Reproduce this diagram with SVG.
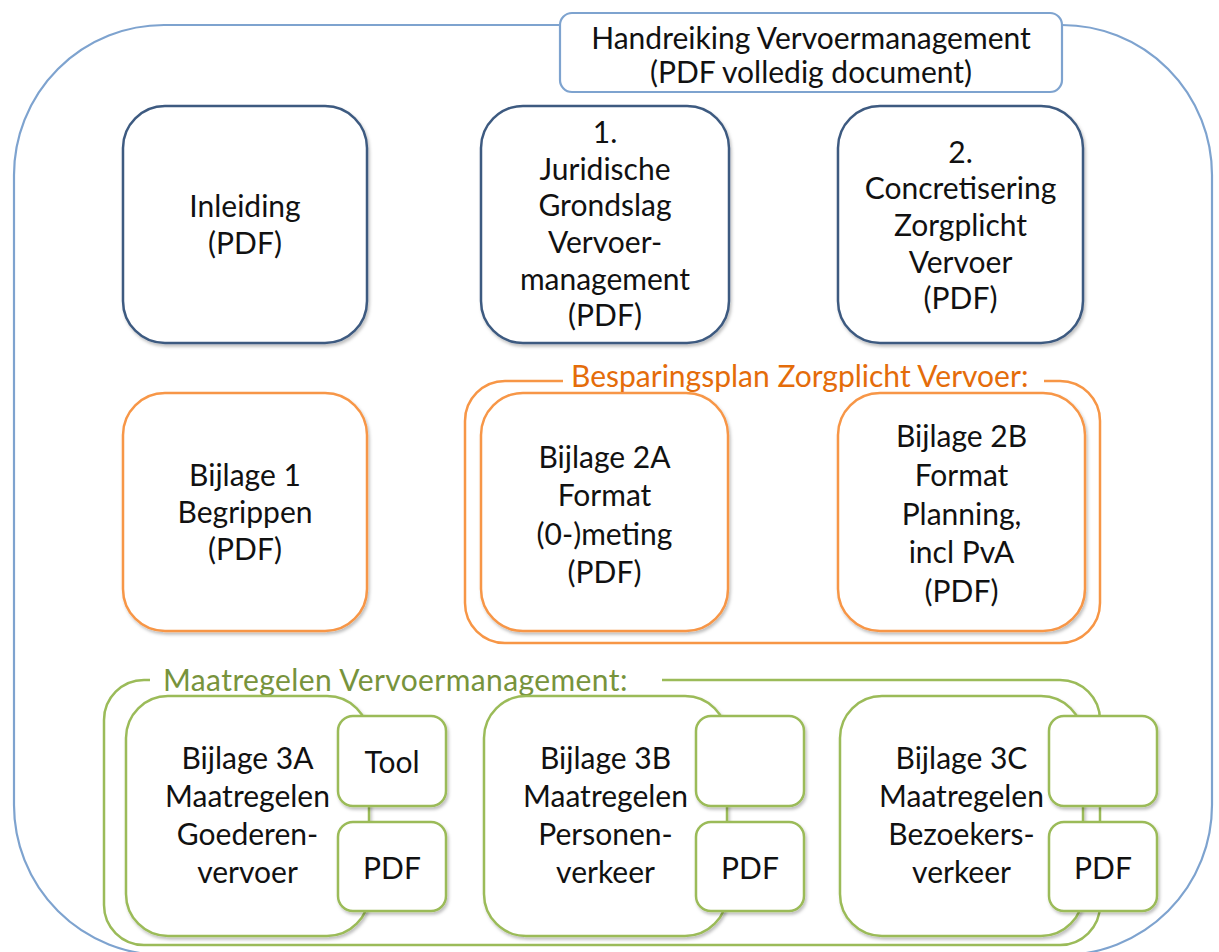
<svg xmlns="http://www.w3.org/2000/svg" width="1219" height="952" viewBox="0 0 1219 952">
<style>
  text { font-family: "Lato", "Liberation Sans", sans-serif; font-size: 30px; fill: #111; text-anchor: middle; }
  .box { fill: #fff; stroke-width: 2.5; filter: url(#sh); }
  .navy { stroke: #3d5a80; }
  .orange { stroke: #f79646; }
  .green { stroke: #9bbb59; }
  .outer { fill: none; stroke: #7ea3cf; stroke-width: 2.2; }
  .grp { fill: none; stroke-width: 2.5; }
  .olabel { fill: #e46c0a; text-anchor: start; }
  .glabel { fill: #77933c; text-anchor: start; }
</style>
<defs>
  <filter id="sh" x="-10%" y="-10%" width="125%" height="125%">
    <feDropShadow dx="1.5" dy="2.5" stdDeviation="1.5" flood-color="#000" flood-opacity="0.25"/>
  </filter>
</defs>
<rect width="1219" height="952" fill="#fff"/>

<g id="outer-container">
  <rect class="outer" x="14" y="25" width="1198" height="930" rx="150" ry="150"/>
</g>

<g id="title">
  <rect x="560" y="13" width="502" height="79" rx="12" fill="#fff" stroke="#7ea3cf" stroke-width="2.2"/>
  <text x="811" y="49">Handreiking Vervoermanagement</text>
  <text x="811" y="83">(PDF volledig document)</text>
</g>

<g id="inleiding">
  <rect class="box navy" x="123" y="106" width="244" height="237" rx="42"/>
  <text x="245" y="217">Inleiding</text>
  <text x="245" y="254">(PDF)</text>
</g>

<g id="hoofdstuk1">
  <rect class="box navy" x="481" y="106" width="248" height="237" rx="42"/>
  <text x="605" y="143">1.</text>
  <text x="605" y="180">Juridische</text>
  <text x="605" y="216">Grondslag</text>
  <text x="605" y="253">Vervoer-</text>
  <text x="605" y="290">management</text>
  <text x="605" y="326">(PDF)</text>
</g>

<g id="hoofdstuk2">
  <rect class="box navy" x="838" y="106" width="245" height="237" rx="42"/>
  <text x="960.5" y="163">2.</text>
  <text x="960.5" y="199">Concretisering</text>
  <text x="960.5" y="236">Zorgplicht</text>
  <text x="960.5" y="273">Vervoer</text>
  <text x="960.5" y="309">(PDF)</text>
</g>

<g id="bijlage1">
  <rect class="box orange" x="123" y="393" width="244" height="238" rx="42"/>
  <text x="245" y="486">Bijlage 1</text>
  <text x="245" y="523">Begrippen</text>
  <text x="245" y="560">(PDF)</text>
</g>

<g id="besparingsplan">
  <path class="grp orange" d="M 563 381 L 505 381 A 40 40 0 0 0 465 421 L 465 603 A 40 40 0 0 0 505 643 L 1060 643 A 40 40 0 0 0 1100 603 L 1100 421 A 40 40 0 0 0 1060 381 L 1044 381"/>
  <g id="bijlage2a">
    <rect class="box orange" x="481" y="393" width="247" height="238" rx="42"/>
    <text x="604.5" y="468">Bijlage 2A</text>
    <text x="604.5" y="506">Format</text>
    <text x="604.5" y="545">(0-)meting</text>
    <text x="604.5" y="583">(PDF)</text>
  </g>
  <g id="bijlage2b">
    <rect class="box orange" x="838" y="393" width="247" height="238" rx="42"/>
    <text x="961.5" y="447">Bijlage 2B</text>
    <text x="961.5" y="486">Format</text>
    <text x="961.5" y="525">Planning,</text>
    <text x="961.5" y="563">incl PvA</text>
    <text x="961.5" y="602">(PDF)</text>
  </g>
  <text class="olabel" x="571" y="387">Besparingsplan Zorgplicht Vervoer:</text>
</g>

<g id="maatregelen">
  <path class="grp green" d="M 150 680 L 144 680 A 40 40 0 0 0 104 720 L 104 905 A 40 40 0 0 0 144 945 L 1060 945 A 40 40 0 0 0 1100 905 L 1100 720 A 40 40 0 0 0 1060 680 L 662 680"/>
  <text class="glabel" x="163" y="691" letter-spacing="0.4">Maatregelen Vervoermanagement:</text>

  <g id="bijlage3a">
    <rect class="box green" x="126" y="696" width="243" height="240" rx="42"/>
    <text x="247.5" y="769">Bijlage 3A</text>
    <text x="247.5" y="807">Maatregelen</text>
    <text x="247.5" y="845">Goederen-</text>
    <text x="247.5" y="883">vervoer</text>
    <g id="bijlage3a-tool">
      <rect class="box green" x="338" y="716" width="108" height="90" rx="15"/>
      <text x="392" y="773">Tool</text>
    </g>
    <g id="bijlage3a-pdf">
      <rect class="box green" x="338" y="822" width="108" height="89" rx="15"/>
      <text x="392" y="879">PDF</text>
    </g>
  </g>

  <g id="bijlage3b">
    <rect class="box green" x="484" y="696" width="243" height="240" rx="42"/>
    <text x="605.5" y="769">Bijlage 3B</text>
    <text x="605.5" y="807">Maatregelen</text>
    <text x="605.5" y="845">Personen-</text>
    <text x="605.5" y="883">verkeer</text>
    <g id="bijlage3b-leeg">
      <rect class="box green" x="696" y="716" width="108" height="90" rx="15"/>
    </g>
    <g id="bijlage3b-pdf">
      <rect class="box green" x="696" y="822" width="108" height="89" rx="15"/>
      <text x="750" y="879">PDF</text>
    </g>
  </g>

  <g id="bijlage3c">
    <rect class="box green" x="840" y="696" width="243" height="240" rx="42"/>
    <text x="961.5" y="769">Bijlage 3C</text>
    <text x="961.5" y="807">Maatregelen</text>
    <text x="961.5" y="845">Bezoekers-</text>
    <text x="961.5" y="883">verkeer</text>
    <g id="bijlage3c-leeg">
      <rect class="box green" x="1049" y="716" width="108" height="90" rx="15"/>
    </g>
    <g id="bijlage3c-pdf">
      <rect class="box green" x="1049" y="822" width="108" height="89" rx="15"/>
      <text x="1103" y="879">PDF</text>
    </g>
  </g>
</g>

<g id="connectors"></g>
</svg>
